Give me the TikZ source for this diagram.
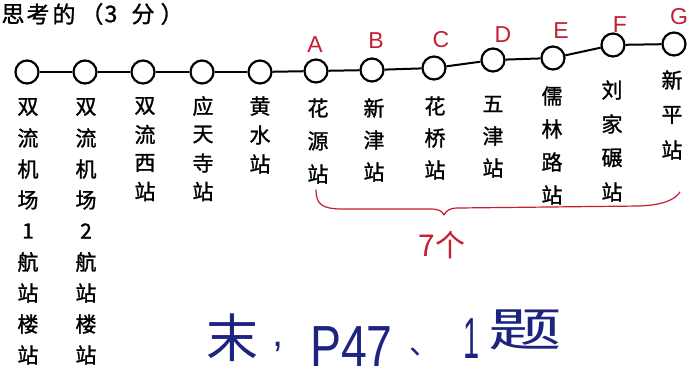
\documentclass[tikz,border=0pt]{standalone}
\usepackage{fontspec}
\setmainfont{Liberation Sans}
\newfontfamily\cjk{Noto Sans CJK SC}
\newfontfamily\cjkb[FakeBold=1.2]{Noto Sans CJK SC}
\definecolor{penred}{RGB}{196,30,52}
\definecolor{penblue}{RGB}{28,36,128}
\tikzset{
  station/.style={circle, draw=black, line width=2.2pt, minimum size=23pt, inner sep=0pt, fill=white},
  track/.style={line width=2pt},
  lbl/.style={font=\cjkb\fontsize{21}{21}\selectfont, inner sep=0pt},
  tag/.style={text=penred, font=\fontsize{23}{23}\selectfont, inner sep=0pt},
  ttl/.style={font=\cjkb\fontsize{23}{23}\selectfont, inner sep=0pt},
  hand/.style={text=penblue, inner sep=0pt},
  bracepen/.style={draw=penred, line width=1.2pt, line cap=round, line join=round}
}
\newcommand\stcol[5]{%
  \foreach \ch [count=\i from 0] in {#5} {\node[lbl] (#1-\i) at (#2,{#3+#4*\i}) {\ch};}}
\begin{document}
\begin{tikzpicture}[x=1pt,y=-1pt]
\useasboundingbox (0,0) rectangle (699,381);
\fill[white] (0,0) rectangle (699,381);

% title
\node[ttl] (t1) at (13,14) {思};
\node[ttl] (t2) at (38,14) {考};
\node[ttl] (t3) at (64,14) {的};
\node[ttl] (t4) at (92,14) {（};
\node[ttl] (t5) at (111,14) {3};
\node[ttl] (t6) at (143,14) {分};
\node[ttl] (t7) at (172,14) {）};

% stations
\node[station] (s1) at (27,72) {};
\node[station] (s2) at (85,72) {};
\node[station] (s3) at (143,72) {};
\node[station] (s4) at (202,72) {};
\node[station] (s5) at (260,72) {};
\node[station] (s6) at (316,71) {};
\node[station] (s7) at (372,70) {};
\node[station] (s8) at (434,68) {};
\node[station] (s9) at (493,60) {};
\node[station] (s10) at (553,58) {};
\node[station] (s11) at (613,45) {};
\node[station] (s12) at (674,44) {};
\foreach \i [evaluate=\i as \j using int(\i+1)] in {1,...,11}
  \draw[track] (s\i) -- (s\j);

% red letters
\node[tag] (la) at (315,45) {A};
\node[tag] (lb) at (376,41) {B};
\node[tag] (lc) at (441,40) {C};
\node[tag] (ld) at (503,35) {D};
\node[tag] (le) at (561,31) {E};
\node[tag] (lf) at (620,25) {F};
\node[tag] (lg) at (679,17) {G};

% station names
\stcol{n1}{28}{107}{31}{双,流,机,场,1,航,站,楼,站}
\stcol{n2}{86}{107}{31}{双,流,机,场,2,航,站,楼,站}
\stcol{n3}{145}{106}{28.5}{双,流,西,站}
\stcol{n4}{203}{106}{28.5}{应,天,寺,站}
\stcol{n5}{260}{106}{29}{黄,水,站}
\stcol{n6}{318}{108}{33}{花,源,站}
\stcol{n7}{374}{108}{32}{新,津,站}
\stcol{n8}{435}{106}{32}{花,桥,站}
\stcol{n9}{493}{104}{32}{五,津,站}
\stcol{n10}{552}{96}{33}{儒,林,路,站}
\stcol{n11}{612}{90}{34}{刘,家,碾,站}
\stcol{n12}{672}{80}{35}{新,平,站}

% red brace and count
\coordinate (bl) at (316,190);
\coordinate (bt) at (444,215);
\coordinate (br) at (680,192);
\draw[bracepen] (bl) .. controls (316,204) and (322,209) .. (342,209)
  -- (430,209) .. controls (439,209) and (442,211) .. (bt)
  .. controls (446,211) and (449,208) .. (458,208)
  -- (640,206) .. controls (662,205) and (675,200) .. (br);
\node[text=penred, font=\cjk\fontsize{30}{30}\selectfont, inner sep=0pt] (cnt) at (442,245) {7个};

% blue handwriting
\node[hand, font=\cjk\fontsize{52}{52}\selectfont] (h1) at (232,338) {末};
\node[hand, font=\fontsize{40}{40}\selectfont, anchor=base] (h2) at (278,346) {,};
\node[hand, font=\fontsize{58}{58}\selectfont, anchor=base west] (h3) at (310,366) {\scalebox{0.8}[1]{P47}};
\node[hand, font=\cjk\fontsize{30}{30}\selectfont] (h4) at (424,352) {、};
\node[hand, font=\fontsize{58}{58}\selectfont, anchor=base] (h5) at (472,358) {\scalebox{0.5}[1]{1}};
\node[hand, font=\cjk\fontsize{46}{46}\selectfont] (h6) at (525,330) {\scalebox{1.6}[1]{题}};
\end{tikzpicture}
\end{document}
